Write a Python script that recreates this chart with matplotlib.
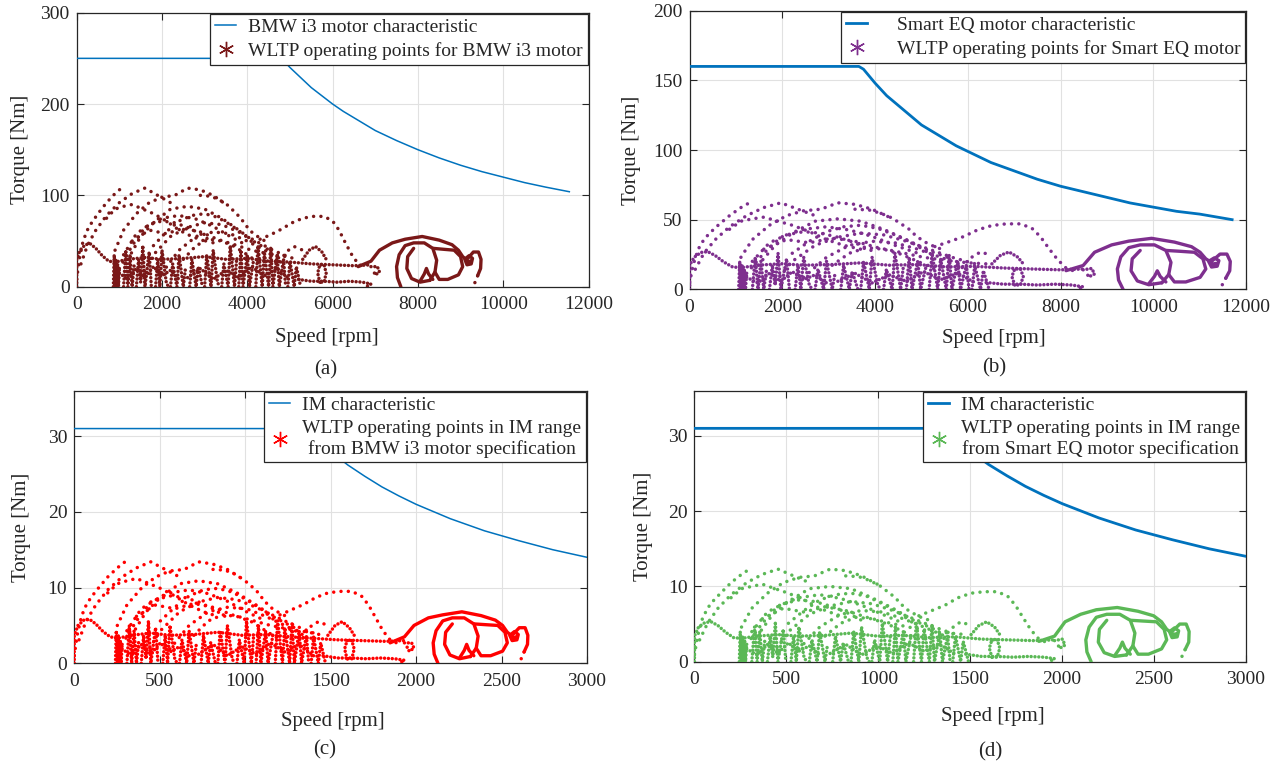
import matplotlib
matplotlib.use('Agg')
import matplotlib.pyplot as plt
from matplotlib.lines import Line2D

plt.rcParams['font.family'] = ['Liberation Serif', 'DejaVu Serif']

# motor characteristics (speed rpm, torque Nm)
bmw_char_speed = [0, 4800, 5000, 5250, 5500, 5750, 6000, 6250, 6500, 6750, 7000, 7500, 8000, 8500, 9000,
                  9500, 10000, 10500, 11000, 11550]
bmw_char_torque = [250, 250, 240, 229, 218, 209, 200, 192, 185, 178, 171, 160, 150, 141, 133,
                   126, 120, 114, 109, 104]
smart_char_speed = [0, 3650, 3750, 3900, 4000, 4250, 4500, 4750, 5000, 5250, 5500, 5750, 6000, 6500, 7000,
                    7500, 8000, 8500, 9000, 9500, 10000, 10500, 11000, 11700]
smart_char_torque = [160, 160, 158, 152, 148, 139, 132, 125, 118, 113, 108, 103, 99, 91, 85,
                     79, 74, 70, 66, 62, 59, 56, 54, 50]
im_bmw_char_speed = [0, 1350, 1400, 1500, 1600, 1700, 1800, 1900, 2000, 2200, 2400, 2600, 2800, 3000]
im_bmw_char_torque = [31, 31, 30, 28, 26.2, 24.7, 23.3, 22.1, 21, 19.1, 17.5, 16.2, 15, 14]
im_smart_char_speed = [0, 1350, 1400, 1500, 1600, 1700, 1800, 1900, 2000, 2200, 2400, 2600, 2800, 3000]
im_smart_char_torque = [31, 31, 30, 28, 26.2, 24.7, 23.3, 22.1, 21, 19.1, 17.5, 16.2, 15, 14]

# WLTP operating points, traced as (speeds, torques) paths
bmw_arcs = [
    ([0, 60, 150, 250, 350, 500, 700, 900, 1100], [8, 30, 50, 62, 70, 80, 92, 102, 110]),
    ([100, 250, 450, 700, 1000, 1300, 1600, 1900, 2200], [25, 45, 62, 78, 92, 102, 108, 100, 92]),
    ([900, 1100, 1400, 1700, 2000, 2300, 2600, 2900, 3200, 3500], [40, 62, 80, 92, 98, 100, 108, 106, 100, 90]),
    ([2900, 3150, 3350, 3550, 3700, 3850, 3950, 4100, 4300, 4500], [100, 99, 95, 89, 82, 75, 68, 60, 53, 48]),
    ([4300, 4550, 4800, 5050, 5300, 5550, 5800, 6000, 6150, 6300, 6450, 6600, 6800],
     [52, 57, 63, 70, 75, 77, 77, 72, 62, 48, 35, 25, 20]),
    ([1000, 1300, 1600, 2000, 2400, 2800, 3200, 3600, 4000], [20, 45, 65, 75, 78, 74, 66, 55, 45]),
    ([1200, 1500, 1800, 2200, 2600, 3000, 3400, 3800, 4200, 4600], [30, 55, 70, 85, 88, 85, 75, 62, 48, 38]),
    ([1500, 1800, 2200, 2600, 3000, 3400, 3800, 4200, 4600, 5000], [10, 35, 55, 65, 70, 68, 60, 50, 40, 32]),
    ([2000, 2400, 2800, 3200, 3600, 4000, 4400, 4800], [15, 40, 55, 60, 58, 50, 40, 30]),
    ([700, 900, 1100, 1300, 1500, 1800, 2100, 2400, 2700, 3000], [75, 85, 88, 90, 86, 80, 72, 62, 55, 50]),
    ([1300, 1700, 2100, 2500, 2900, 3300, 3700, 4100, 4500, 4900, 5200], [50, 62, 58, 64, 60, 52, 46, 40, 36, 33, 30]),
    ([2500, 2800, 3100, 3400, 3700, 4000, 4300], [30, 45, 52, 50, 44, 35, 25]),
    ([4700, 4900, 5100, 5300], [20, 38, 44, 40]),
    ([1100, 1400, 1700, 2000, 2300, 2600, 2900, 3200], [35, 58, 68, 72, 70, 65, 58, 48]),
    ([1800, 2100, 2400, 2700, 3000, 3300, 3600, 3900, 4200], [45, 60, 72, 78, 80, 76, 68, 58, 45]),
    ([9400, 9340, 9300], [12, 5, 0]),
    ([8280, 8300], [7, 0]),
]
bmw_bands = [
    ([0, 0, 80, 200, 320, 450, 600, 750, 900, 1200, 1600, 2000, 2500, 3000, 3500, 4000, 4500, 5000, 5500, 6000, 6500, 6900],
     [0, 30, 40, 46, 47, 42, 34, 28, 27, 30, 32, 30, 31, 33, 30, 31, 28, 27, 25, 24, 23, 24]),
    ([5200, 5500, 5800, 6100, 6400, 6700, 6900, 6800], [8, 6, 6, 5, 6, 5, 3, 0]),
    ([5700, 5650, 5700, 5800, 5850, 5800, 5700], [5, 15, 24, 24, 15, 5, 5]),
    ([6900, 7050, 7100, 7000, 6950], [22, 22, 16, 13, 18]),
    ([5300, 5450, 5600, 5750, 5850], [30, 40, 44, 38, 30]),
    ([860, 880, 900, 920, 940, 960, 980, 1000], [0, 35, 0, 30, 0, 25, 0, 20]),
    ([1100, 1150, 1200, 1250, 1300, 1350], [0, 40, 0, 35, 0, 25]),
    ([1400, 1450, 1500, 1550, 1600, 1700, 1750], [0, 30, 5, 45, 0, 38, 0]),
    ([1850, 1900, 1950, 2000, 2100, 2150], [0, 30, 0, 40, 5, 0]),
    ([2200, 2250, 2350, 2400, 2500, 2550], [0, 25, 0, 35, 0, 20]),
    ([2650, 2700, 2800, 2850, 2950], [0, 30, 0, 22, 0]),
    ([3000, 3050, 3150, 3200, 3300, 3350], [0, 35, 0, 40, 5, 0]),
    ([3400, 3450, 3550, 3600, 3700, 3750], [0, 25, 0, 45, 0, 30]),
    ([3800, 3850, 3900, 4000, 4050, 4150], [0, 40, 0, 35, 0, 30]),
    ([4200, 4250, 4350, 4400, 4500, 4550], [0, 45, 0, 38, 0, 42]),
    ([4550, 4600, 4700, 4750, 4850, 4900], [42, 0, 35, 0, 30, 0]),
    ([4950, 5000, 5100, 5150, 5250], [0, 28, 0, 22, 0]),
    ([1000, 1200, 1400, 1600, 1800, 2000, 2200, 2400], [15, 8, 20, 10, 22, 12, 18, 8]),
    ([2600, 2900, 3200, 3500, 3800, 4100, 4400, 4700, 5000], [10, 20, 8, 18, 10, 22, 12, 20, 8]),
]
bmw_loops = [
    ([6600, 6900, 7100, 7400, 7700, 8100, 8500, 8800, 8950, 9050, 9150], [22, 28, 40, 48, 52, 55, 51, 46, 40, 33, 29]),
    ([7600, 7520, 7500, 7560, 7700, 7900, 8150, 8350, 8440, 8400, 8280, 8050, 7850, 7740, 7760, 7900],
     [0, 10, 22, 35, 45, 48, 48, 42, 29, 16, 7, 5, 9, 20, 33, 42]),
    ([8050, 8150, 8200, 8250, 8350], [6, 14, 20, 14, 8]),
    ([8360, 8600, 8850, 9000, 9050, 8950, 8700, 8500, 8400], [42, 41, 40, 33, 22, 13, 8, 8, 16]),
    ([9100, 9150, 9250, 9280, 9200, 9120, 9150, 9230], [30, 24, 25, 31, 34, 31, 27, 28]),
    ([9150, 9300, 9420, 9480, 9470, 9400], [30, 38, 38, 30, 20, 12]),
]

smart_arcs = [
    ([0, 74, 185, 308, 431, 615, 861, 1107, 1353], [4.6, 17.3, 28.8, 35.7, 40.3, 46, 52.9, 58.7, 63.3]),
    ([123, 308, 554, 861, 1230, 1599, 1968, 2337, 2706], [14.4, 25.9, 35.7, 44.9, 52.9, 58.7, 62.1, 57.5, 52.9]),
    ([1107, 1353, 1722, 2091, 2460, 2829, 3198, 3567, 3936, 4305], [23, 35.7, 46, 52.9, 56.4, 57.5, 62.1, 61, 57.5, 51.8]),
    ([3567, 3875, 4121, 4367, 4551, 4736, 4859, 5043, 5289, 5535], [57.5, 56.9, 54.6, 51.2, 47.2, 43.1, 39.1, 34.5, 30.5, 27.6]),
    ([5289, 5597, 5904, 6212, 6519, 6827, 7134, 7380, 7565, 7749, 7934, 8118, 8364],
     [30.7, 34.2, 37.8, 42.7, 45.8, 47, 47, 43.9, 37.8, 29.3, 21.4, 15.3, 12.2]),
    ([1230, 1599, 1968, 2460, 2952, 3444, 3936, 4428, 4920], [11.5, 25.9, 37.4, 43.1, 44.9, 42.6, 38, 31.6, 25.9]),
    ([1476, 1845, 2214, 2706, 3198, 3690, 4182, 4674, 5166, 5658], [17.3, 31.6, 40.3, 48.9, 50.6, 48.9, 43.1, 35.7, 27.6, 21.9]),
    ([1845, 2214, 2706, 3198, 3690, 4182, 4674, 5166, 5658, 6150], [5.8, 20.1, 31.6, 37.4, 40.3, 39.1, 34.5, 28.8, 23, 18.4]),
    ([2460, 2952, 3444, 3936, 4428, 4920, 5412, 5904], [8.6, 23, 31.6, 34.5, 33.4, 28.8, 23, 17.3]),
    ([861, 1107, 1353, 1599, 1845, 2214, 2583, 2952, 3321, 3690], [43.1, 48.9, 50.6, 51.8, 49.5, 46, 41.4, 35.7, 31.6, 28.8]),
    ([1599, 2091, 2583, 3075, 3567, 4059, 4551, 5043, 5535, 6027, 6396],
     [28.8, 35.7, 33.4, 36.8, 34.5, 29.9, 26.5, 23, 20.7, 19, 18.3]),
    ([3075, 3444, 3813, 4182, 4551, 4920, 5289], [17.3, 25.9, 29.9, 28.8, 25.3, 20.1, 14.4]),
    ([5781, 6027, 6273, 6519], [11.5, 21.9, 26.8, 24.4]),
    ([1353, 1722, 2091, 2460, 2829, 3198, 3567, 3936], [20.1, 33.4, 39.1, 41.4, 40.3, 37.4, 33.4, 27.6]),
    ([2214, 2583, 2952, 3321, 3690, 4059, 4428, 4797, 5166], [25.9, 34.5, 41.4, 44.9, 46, 43.7, 39.1, 33.4, 25.9]),
    ([11562, 11488, 11439], [8, 3.3, 0]),
    ([10184, 10209], [4.7, 0]),
]
smart_bands = [
    ([0, 0, 98, 246, 394, 554, 738, 923, 1107, 1476, 1968, 2460, 3075, 3690, 4305, 4920, 5535, 6150, 6765, 7380, 7995, 8487],
     [0, 17.3, 23, 26.5, 27, 24.2, 19.6, 16.1, 15.5, 17.3, 18.4, 17.3, 17.8, 19, 17.3, 17.8, 16.1, 16.5, 15.3, 14.6, 14, 14.6]),
    ([6396, 6765, 7134, 7503, 7872, 8241, 8487, 8364], [4.9, 3.7, 3.7, 3.1, 3.7, 3.1, 1.8, 0]),
    ([7011, 6950, 7011, 7134, 7196, 7134, 7011], [3.1, 9.2, 14.6, 14.6, 9.2, 3.1, 3.1]),
    ([8487, 8672, 8733, 8610, 8549], [14, 15, 11, 9, 12]),
    ([6519, 6704, 6888, 7073, 7196], [18.3, 24.4, 26.8, 23.2, 18.3]),
    ([1058, 1082, 1107, 1132, 1156, 1181, 1205, 1230], [0, 20.1, 0, 17.3, 0, 14.4, 0, 11.5]),
    ([1353, 1415, 1476, 1538, 1599, 1661], [0, 23, 0, 20.1, 0, 14.4]),
    ([1722, 1784, 1845, 1907, 1968, 2091, 2153], [0, 17.3, 2.9, 25.9, 0, 21.9, 0]),
    ([2276, 2337, 2399, 2460, 2583, 2645], [0, 17.3, 0, 23, 2.9, 0]),
    ([2706, 2768, 2891, 2952, 3075, 3137], [0, 14.4, 0, 20.1, 0, 11.5]),
    ([3260, 3321, 3444, 3506, 3629], [0, 17.3, 0, 12.7, 0]),
    ([3690, 3752, 3875, 3936, 4059, 4121], [0, 20.1, 0, 23, 2.9, 0]),
    ([4182, 4244, 4367, 4428, 4551, 4613], [0, 14.4, 0, 25.9, 0, 17.3]),
    ([4674, 4736, 4797, 4920, 4982, 5105], [0, 23, 0, 20.1, 0, 17.3]),
    ([5166, 5228, 5351, 5412, 5535, 5597], [0, 25.9, 0, 21.9, 0, 24.2]),
    ([5597, 5658, 5781, 5843, 5966, 6027], [24.2, 0, 20.1, 0, 17.3, 0]),
    ([6089, 6150, 6273, 6335, 6458], [0, 17.1, 0, 13.4, 0]),
    ([1230, 1476, 1722, 1968, 2214, 2460, 2706, 2952], [8.6, 4.6, 11.5, 5.8, 12.7, 6.9, 10.4, 4.6]),
    ([3198, 3567, 3936, 4305, 4674, 5043, 5412, 5781, 6150], [5.8, 11.5, 4.6, 10.4, 5.8, 12.7, 6.9, 11.5, 4.9]),
]
smart_loops = [
    ([8118, 8487, 8733, 9102, 9471, 9963, 10455, 10824, 11009, 11132, 11255],
     [13.4, 17.1, 26.6, 31.9, 34.6, 36.6, 33.9, 30.6, 26.6, 21.9, 19.3]),
    ([9348, 9250, 9225, 9299, 9471, 9717, 10025, 10271, 10381, 10332, 10184, 9902, 9656, 9520, 9545, 9717],
     [0, 6.7, 14.6, 23.3, 29.9, 31.9, 31.9, 27.9, 19.3, 10.6, 4.7, 3.3, 6, 13.3, 21.9, 27.9]),
    ([9902, 10025, 10086, 10148, 10271], [4, 9.3, 13.3, 9.3, 5.3]),
    ([10283, 10578, 10886, 11070, 11132, 11009, 10701, 10455, 10332], [27.9, 27.3, 26.6, 21.9, 14.6, 8.6, 5.3, 5.3, 10.6]),
    ([11193, 11255, 11378, 11414, 11316, 11218, 11255, 11353], [20, 16, 16.6, 20.6, 22.6, 20.6, 18, 18.6]),
    ([11255, 11439, 11587, 11660, 11648, 11562], [20, 25.3, 25.3, 20, 13.3, 8]),
]

im_bmw_arcs = [
    ([0, 17, 42, 70, 98, 140, 196, 252, 308], [1, 3.7, 6.2, 7.7, 8.7, 9.9, 11.4, 12.6, 13.6]),
    ([28, 70, 126, 196, 280, 364, 448, 532, 616], [3.1, 5.6, 7.7, 9.7, 11.4, 12.6, 13.4, 12.4, 11.4]),
    ([252, 308, 392, 476, 560, 644, 728, 812, 896, 980], [5, 7.7, 9.9, 11.4, 12.2, 12.4, 13.4, 13.1, 12.4, 11.2]),
    ([812, 882, 938, 994, 1036, 1078, 1106, 1148, 1204, 1260], [12.4, 12.3, 11.8, 11, 10.2, 9.3, 8.4, 7.4, 6.6, 6]),
    ([1204, 1274, 1344, 1414, 1484, 1554, 1624, 1680, 1722, 1764, 1806, 1848, 1904],
     [6.4, 7.1, 7.8, 8.7, 9.3, 9.5, 9.5, 8.9, 7.7, 6, 4.3, 3.1, 2.5]),
    ([280, 364, 448, 560, 672, 784, 896, 1008, 1120], [2.5, 5.6, 8.1, 9.3, 9.7, 9.2, 8.2, 6.8, 5.6]),
    ([336, 420, 504, 616, 728, 840, 952, 1064, 1176, 1288], [3.7, 6.8, 8.7, 10.5, 10.9, 10.5, 9.3, 7.7, 6, 4.7]),
    ([420, 504, 616, 728, 840, 952, 1064, 1176, 1288, 1400], [1.2, 4.3, 6.8, 8.1, 8.7, 8.4, 7.4, 6.2, 5, 4]),
    ([560, 672, 784, 896, 1008, 1120, 1232, 1344], [1.9, 5, 6.8, 7.4, 7.2, 6.2, 5, 3.7]),
    ([196, 252, 308, 364, 420, 504, 588, 672, 756, 840], [9.3, 10.5, 10.9, 11.2, 10.7, 9.9, 8.9, 7.7, 6.8, 6.2]),
    ([364, 476, 588, 700, 812, 924, 1036, 1148, 1260, 1372, 1456], [6.2, 7.7, 7.2, 7.9, 7.4, 6.4, 5.7, 5, 4.5, 4.1, 3.7]),
    ([700, 784, 868, 952, 1036, 1120, 1204], [3.7, 5.6, 6.4, 6.2, 5.5, 4.3, 3.1]),
    ([1316, 1372, 1428, 1484], [2.5, 4.7, 5.5, 5]),
    ([308, 392, 476, 560, 644, 728, 812, 896], [4.3, 7.2, 8.4, 8.9, 8.7, 8.1, 7.2, 6]),
    ([504, 588, 672, 756, 840, 924, 1008, 1092, 1176], [5.6, 7.4, 8.9, 9.7, 9.9, 9.4, 8.4, 7.2, 5.6]),
    ([2632, 2615, 2604], [1.5, 0.6, 0]),
    ([2318, 2324], [0.9, 0]),
]
im_bmw_bands = [
    ([0, 0, 22, 56, 90, 126, 168, 210, 252, 336, 448, 560, 700, 840, 980, 1120, 1260, 1400, 1540, 1680, 1820, 1932],
     [0, 3.7, 5, 5.7, 5.8, 5.2, 4.2, 3.5, 3.3, 3.7, 4, 3.7, 3.8, 4.1, 3.7, 3.8, 3.5, 3.3, 3.1, 3, 2.9, 3]),
    ([1456, 1540, 1624, 1708, 1792, 1876, 1932, 1904], [1, 0.7, 0.7, 0.6, 0.7, 0.6, 0.4, 0]),
    ([1596, 1582, 1596, 1624, 1638, 1624, 1596], [0.6, 1.9, 3, 3, 1.9, 0.6, 0.6]),
    ([1932, 1974, 1988, 1960, 1946], [2.7, 2.7, 2, 1.6, 2.2]),
    ([1484, 1526, 1568, 1610, 1638], [3.7, 5, 5.5, 4.7, 3.7]),
    ([241, 246, 252, 258, 263, 269, 274, 280], [0, 4.3, 0, 3.7, 0, 3.1, 0, 2.5]),
    ([308, 322, 336, 350, 364, 378], [0, 5, 0, 4.3, 0, 3.1]),
    ([392, 406, 420, 434, 448, 476, 490], [0, 3.7, 0.6, 5.6, 0, 4.7, 0]),
    ([518, 532, 546, 560, 588, 602], [0, 3.7, 0, 5, 0.6, 0]),
    ([616, 630, 658, 672, 700, 714], [0, 3.1, 0, 4.3, 0, 2.5]),
    ([742, 756, 784, 798, 826], [0, 3.7, 0, 2.7, 0]),
    ([840, 854, 882, 896, 924, 938], [0, 4.3, 0, 5, 0.6, 0]),
    ([952, 966, 994, 1008, 1036, 1050], [0, 3.1, 0, 5.6, 0, 3.7]),
    ([1064, 1078, 1092, 1120, 1134, 1162], [0, 5, 0, 4.3, 0, 3.7]),
    ([1176, 1190, 1218, 1232, 1260, 1274], [0, 5.6, 0, 4.7, 0, 5.2]),
    ([1274, 1288, 1316, 1330, 1358, 1372], [5.2, 0, 4.3, 0, 3.7, 0]),
    ([1386, 1400, 1428, 1442, 1470], [0, 3.5, 0, 2.7, 0]),
    ([280, 336, 392, 448, 504, 560, 616, 672], [1.9, 1, 2.5, 1.2, 2.7, 1.5, 2.2, 1]),
    ([728, 812, 896, 980, 1064, 1148, 1232, 1316, 1400], [1.2, 2.5, 1, 2.2, 1.2, 2.7, 1.5, 2.5, 1]),
]
im_bmw_loops = [
    ([1848, 1932, 1988, 2072, 2156, 2268, 2380, 2464, 2506, 2534, 2562], [2.7, 3.5, 5, 6, 6.4, 6.8, 6.3, 5.7, 5, 4.1, 3.6]),
    ([2128, 2106, 2100, 2117, 2156, 2212, 2282, 2338, 2363, 2352, 2318, 2254, 2198, 2167, 2173, 2212],
     [0, 1.2, 2.7, 4.3, 5.6, 6, 6, 5.2, 3.6, 2, 0.9, 0.6, 1.1, 2.5, 4.1, 5.2]),
    ([2254, 2282, 2296, 2310, 2338], [0.7, 1.7, 2.5, 1.7, 1]),
    ([2341, 2408, 2478, 2520, 2534, 2506, 2436, 2380, 2352], [5.2, 5.1, 5, 4.1, 2.7, 1.6, 1, 1, 2]),
    ([2548, 2562, 2590, 2598, 2576, 2554, 2562, 2584], [3.7, 3, 3.1, 3.8, 4.2, 3.8, 3.3, 3.5]),
    ([2562, 2604, 2638, 2654, 2652, 2632], [3.7, 4.7, 4.7, 3.7, 2.5, 1.5]),
]

im_smart_arcs = [
    ([0, 17, 43, 71, 99, 142, 199, 256, 312], [0.9, 3.4, 5.7, 7.1, 8, 9.1, 10.5, 11.6, 12.5]),
    ([28, 71, 128, 199, 284, 369, 454, 539, 625], [2.9, 5.1, 7.1, 8.9, 10.5, 11.6, 12.3, 11.4, 10.5]),
    ([256, 312, 397, 483, 568, 653, 738, 823, 909, 994], [4.6, 7.1, 9.1, 10.5, 11.2, 11.4, 12.3, 12.1, 11.4, 10.3]),
    ([823, 894, 951, 1008, 1051, 1093, 1121, 1164, 1221, 1278], [11.4, 11.3, 10.8, 10.1, 9.3, 8.5, 7.7, 6.8, 6, 5.5]),
    ([1221, 1292, 1363, 1434, 1505, 1576, 1647, 1704, 1746, 1789, 1831, 1874, 1931],
     [6.1, 6.8, 7.5, 8.5, 9.1, 9.3, 9.3, 8.7, 7.5, 5.8, 4.2, 3, 2.4]),
    ([284, 369, 454, 568, 681, 795, 909, 1022, 1136], [2.3, 5.1, 7.4, 8.5, 8.9, 8.4, 7.5, 6.3, 5.1]),
    ([341, 426, 511, 625, 738, 852, 965, 1079, 1192, 1306], [3.4, 6.3, 8, 9.7, 10, 9.7, 8.5, 7.1, 5.5, 4.3]),
    ([426, 511, 625, 738, 852, 965, 1079, 1192, 1306, 1420], [1.1, 4, 6.3, 7.4, 8, 7.7, 6.8, 5.7, 4.6, 3.6]),
    ([568, 681, 795, 909, 1022, 1136, 1249, 1363], [1.7, 4.6, 6.3, 6.8, 6.6, 5.7, 4.6, 3.4]),
    ([199, 256, 312, 369, 426, 511, 596, 681, 767, 852], [8.5, 9.7, 10, 10.3, 9.8, 9.1, 8.2, 7.1, 6.3, 5.7]),
    ([369, 483, 596, 710, 823, 937, 1051, 1164, 1278, 1391, 1476], [5.7, 7.1, 6.6, 7.3, 6.8, 5.9, 5.2, 4.6, 4.1, 3.8, 3.6]),
    ([710, 795, 880, 965, 1051, 1136, 1221], [3.4, 5.1, 5.9, 5.7, 5, 4, 2.9]),
    ([1334, 1391, 1448, 1505], [2.3, 4.3, 5.3, 4.8]),
    ([312, 397, 483, 568, 653, 738, 823, 909], [4, 6.6, 7.7, 8.2, 8, 7.4, 6.6, 5.5]),
    ([511, 596, 681, 767, 852, 937, 1022, 1107, 1192], [5.1, 6.8, 8.2, 8.9, 9.1, 8.7, 7.7, 6.6, 5.1]),
    ([2669, 2652, 2640], [1.6, 0.7, 0]),
    ([2350, 2357], [0.9, 0]),
]
im_smart_bands = [
    ([0, 0, 22, 57, 91, 128, 170, 213, 256, 341, 454, 568, 710, 852, 994, 1136, 1278, 1420, 1562, 1704, 1845, 1959],
     [0, 3.4, 4.6, 5.2, 5.3, 4.8, 3.9, 3.2, 3.1, 3.4, 3.6, 3.4, 3.5, 3.8, 3.4, 3.5, 3.2, 3.3, 3, 2.9, 2.8, 2.9]),
    ([1476, 1562, 1647, 1732, 1817, 1902, 1959, 1931], [1, 0.7, 0.7, 0.6, 0.7, 0.6, 0.4, 0]),
    ([1618, 1604, 1618, 1647, 1661, 1647, 1618], [0.6, 1.8, 2.9, 2.9, 1.8, 0.6, 0.6]),
    ([1959, 2002, 2016, 1987, 1973], [2.8, 3, 2.2, 1.8, 2.4]),
    ([1505, 1547, 1590, 1633, 1661], [3.6, 4.8, 5.3, 4.6, 3.6]),
    ([244, 249, 256, 262, 267, 273, 278, 284], [0, 4, 0, 3.4, 0, 2.9, 0, 2.3]),
    ([312, 327, 341, 355, 369, 383], [0, 4.6, 0, 4, 0, 2.9]),
    ([397, 412, 426, 440, 454, 483, 497], [0, 3.4, 0.6, 5.1, 0, 4.3, 0]),
    ([525, 539, 554, 568, 596, 610], [0, 3.4, 0, 4.6, 0.6, 0]),
    ([625, 639, 667, 681, 710, 724], [0, 2.9, 0, 4, 0, 2.3]),
    ([752, 767, 795, 809, 838], [0, 3.4, 0, 2.5, 0]),
    ([852, 866, 894, 909, 937, 951], [0, 4, 0, 4.6, 0.6, 0]),
    ([965, 980, 1008, 1022, 1051, 1065], [0, 2.9, 0, 5.1, 0, 3.4]),
    ([1079, 1093, 1107, 1136, 1150, 1178], [0, 4.6, 0, 4, 0, 3.4]),
    ([1192, 1207, 1235, 1249, 1278, 1292], [0, 5.1, 0, 4.3, 0, 4.8]),
    ([1292, 1306, 1334, 1349, 1377, 1391], [4.8, 0, 4, 0, 3.4, 0]),
    ([1405, 1420, 1448, 1462, 1491], [0, 3.4, 0, 2.7, 0]),
    ([284, 341, 397, 454, 511, 568, 625, 681], [1.7, 0.9, 2.3, 1.1, 2.5, 1.4, 2.1, 0.9]),
    ([738, 823, 909, 994, 1079, 1164, 1249, 1334, 1420], [1.1, 2.3, 0.9, 2.1, 1.1, 2.5, 1.4, 2.3, 1]),
]
im_smart_loops = [
    ([1874, 1959, 2016, 2101, 2186, 2300, 2413, 2498, 2541, 2569, 2598], [2.7, 3.4, 5.3, 6.3, 6.9, 7.2, 6.7, 6.1, 5.3, 4.3, 3.8]),
    ([2158, 2135, 2129, 2147, 2186, 2243, 2314, 2371, 2396, 2385, 2350, 2286, 2229, 2197, 2203, 2243],
     [0, 1.3, 2.9, 4.6, 5.9, 6.3, 6.3, 5.5, 3.8, 2.1, 0.9, 0.7, 1.2, 2.6, 4.3, 5.5]),
    ([2286, 2314, 2328, 2342, 2371], [0.8, 1.8, 2.6, 1.8, 1]),
    ([2374, 2442, 2513, 2555, 2569, 2541, 2470, 2413, 2385], [5.5, 5.4, 5.3, 4.3, 2.9, 1.7, 1, 1, 2.1]),
    ([2584, 2598, 2626, 2634, 2612, 2590, 2598, 2620], [4, 3.2, 3.3, 4.1, 4.5, 4.1, 3.6, 3.7]),
    ([2598, 2640, 2675, 2691, 2689, 2669], [4, 5, 5, 4, 2.6, 1.6]),
]

LINE_BLUE = '#0072BD'
AX_COLOR = '#262626'


def draw_points(ax, arcs, bands, loops, color):
    for s, t in arcs:
        ax.plot(s, t, color=color, lw=2.5, ls=(0, (0.01, 2.1)), dash_capstyle='round', zorder=3)
    for s, t in bands:
        ax.plot(s, t, color=color, lw=2.5, ls=(0, (0.01, 1.1)), dash_capstyle='round', zorder=3)
    for s, t in loops:
        ax.plot(s, t, color=color, lw=2.4, solid_capstyle='round', solid_joinstyle='round', zorder=3)


def style_axes(ax, xmax, xstep, ymax, yticks, xlab_pos, ylab_x):
    ax.set_xlim(0, xmax)
    ax.set_ylim(0, ymax)
    ax.set_xticks(range(0, xmax + 1, xstep))
    ax.set_yticks(yticks)
    ax.grid(True, color='#e1e1e1', lw=0.8, zorder=0)
    ax.set_axisbelow(True)
    for sp in ax.spines.values():
        sp.set_color(AX_COLOR)
        sp.set_linewidth(0.9)
    ax.tick_params(direction='in', top=True, right=True, length=5, width=0.8,
                   labelsize=14, colors=AX_COLOR)
    ax.tick_params(axis='x', pad=7)
    ax.tick_params(axis='y', pad=5)
    ax.set_xlabel('Speed [rpm]', fontsize=15, color=AX_COLOR)
    ax.set_ylabel('Torque [Nm]', fontsize=15, color=AX_COLOR)
    ax.xaxis.label.set_va('center')
    ax.yaxis.label.set_va('center')
    ax.xaxis.set_label_coords(xlab_pos[0], xlab_pos[1])
    ax.yaxis.set_label_coords(ylab_x, 0.5)


def add_legend(ax, line_lw, point_color, labels, textpad):
    handles = [Line2D([], [], color=LINE_BLUE, lw=line_lw),
               Line2D([], [], ls='none', marker=(6, 2, 0), color=point_color, markersize=11, mew=1.0)]
    leg = ax.legend(handles, labels, loc='upper right', borderaxespad=0.05, fontsize=14,
                    fancybox=False, framealpha=1, edgecolor=AX_COLOR, handlelength=1.1,
                    handletextpad=textpad, borderpad=0.25, labelspacing=0.3)
    leg.get_frame().set_linewidth(0.9)
    leg.set_zorder(10)
    for txt in leg.get_texts():
        txt.set_multialignment('center')
        txt.set_color(AX_COLOR)
    return leg


fig = plt.figure(figsize=(12.78, 7.64), dpi=100)
ax_a = fig.add_axes([0.0600, 0.6247, 0.4005, 0.3587])
ax_b = fig.add_axes([0.5396, 0.6213, 0.4354, 0.3647])
ax_c = fig.add_axes([0.0581, 0.1318, 0.4012, 0.3568])
ax_d = fig.add_axes([0.5434, 0.1339, 0.4315, 0.3547])

# (a) BMW i3
ax_a.plot(bmw_char_speed, bmw_char_torque, color=LINE_BLUE, lw=1.1, zorder=4)
draw_points(ax_a, bmw_arcs, bmw_bands, bmw_loops, '#7A1818')
style_axes(ax_a, 12000, 2000, 300, [0, 100, 200, 300], (0.488, -0.187), -0.109)
add_legend(ax_a, 1.1, '#7A1818',
           ['BMW i3 motor characteristic', 'WLTP operating points for BMW i3 motor'], 0.6)

# (b) Smart EQ
ax_b.plot(smart_char_speed, smart_char_torque, color=LINE_BLUE, lw=2.0, zorder=4)
draw_points(ax_b, smart_arcs, smart_bands, smart_loops, '#7E2F8E')
style_axes(ax_b, 12000, 2000, 200, [0, 50, 100, 150, 200], (0.547, -0.175), -0.104)
add_legend(ax_b, 2.0, '#7E2F8E',
           ['Smart EQ motor characteristic', 'WLTP operating points for Smart EQ motor'], 1.5)

# (c) IM from BMW i3
ax_c.plot(im_bmw_char_speed, im_bmw_char_torque, color=LINE_BLUE, lw=1.1, zorder=4)
draw_points(ax_c, im_bmw_arcs, im_bmw_bands, im_bmw_loops, '#FF0000')
style_axes(ax_c, 3000, 500, 36, [0, 10, 20, 30], (0.504, -0.214), -0.103)
add_legend(ax_c, 1.1, '#FF0000',
           ['IM characteristic', 'WLTP operating points in IM range\nfrom BMW i3 motor specification'], 0.6)

# (d) IM from Smart EQ
ax_d.plot(im_smart_char_speed, im_smart_char_torque, color=LINE_BLUE, lw=2.0, zorder=4)
draw_points(ax_d, im_smart_arcs, im_smart_bands, im_smart_loops, '#5BB856')
style_axes(ax_d, 3000, 500, 36, [0, 10, 20, 30], (0.541, -0.203), -0.092)
add_legend(ax_d, 2.0, '#5BB856',
           ['IM characteristic', 'WLTP operating points in IM range\nfrom Smart EQ motor specification'], 0.6)

for label, x, y in [('(a)', 0.255, 0.516), ('(b)', 0.778, 0.518), ('(c)', 0.254, 0.018), ('(d)', 0.775, 0.016)]:
    fig.text(x, y, label, ha='center', va='center', fontsize=15, color=AX_COLOR)

fig.savefig('out.png', dpi=100)
